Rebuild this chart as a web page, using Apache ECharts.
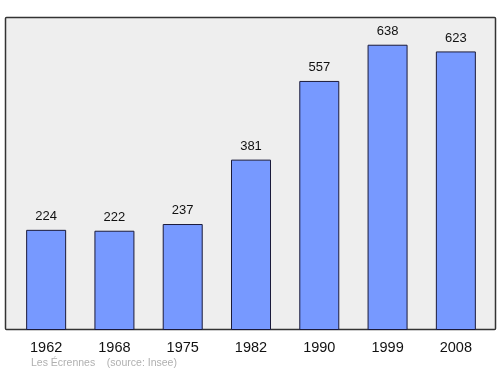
<!DOCTYPE html>
<html><head><meta charset="utf-8">
<script src="https://cdn.jsdelivr.net/npm/echarts@6/dist/echarts.min.js"></script>
<style>html,body{margin:0;padding:0;background:#fff}#c{width:500px;height:374px}</style>
</head><body><div id="c"></div>
<script>
const years = ['1962','1968','1975','1982','1990','1999','2008'];
const population = [224,222,237,381,557,638,623];
const footer = 'Les Écrennes    (source: Insee)';

const chart = echarts.init(document.getElementById('c'), null, {renderer:'canvas'});
chart.setOption({
  animation:false,
  backgroundColor:'#ffffff',
  graphic:[
    {type:'rect', z:-10, shape:{x:5.5,y:17.5,width:490,height:312, r:1},
     style:{fill:'#eeeeee', stroke:'#333333', lineWidth:1.5}},
    {type:'text', left:31, top:358, style:{text:footer, fill:'#b0b0b0', font:'10.5px "Liberation Sans", Arial, sans-serif'}}
  ],
  grid:{left:12, right:10, top:17, bottom:44},
  xAxis:{type:'category', data:years,
    axisLine:{show:false}, axisTick:{show:false},
    axisLabel:{color:'#111', fontSize:14.5, fontFamily:'"Liberation Sans", Arial, sans-serif', margin:10}},
  yAxis:{type:'value', min:0, max:700, show:false, splitLine:{show:false}},
  series:[{type:'bar', data:population, barWidth:40,
    itemStyle:{color:'#7799ff', borderColor:'#1a1a3a', borderWidth:1},
    label:{show:true, position:'top', distance:7, color:'#111', fontSize:13,
      fontFamily:'"Liberation Sans", Arial, sans-serif'}}]
});
</script></body></html>
